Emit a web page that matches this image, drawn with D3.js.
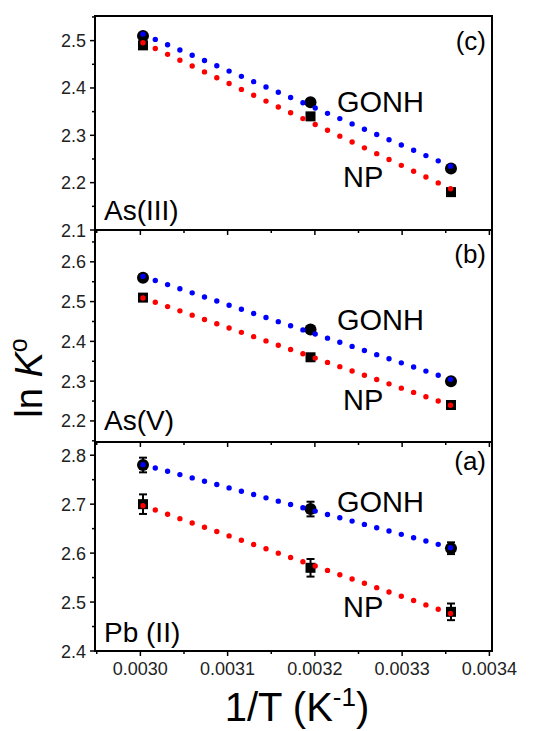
<!DOCTYPE html>
<html>
<head>
<meta charset="utf-8">
<script src="https://cdn.jsdelivr.net/npm/d3@7"></script>
<style>
  body { margin: 0; background: #fff; }
  svg { display: block; font-family: Arial, "Liberation Sans", sans-serif; }
</style>
</head>
<body>
<svg id="chart" width="535" height="731"></svg>
<script>
// 1/T values (K^-1)
var invT = [0.003003, 0.003195, 0.003356];
var xTicks = [0.0030, 0.0031, 0.0032, 0.0033, 0.0034];

// panel (c) As(III)
var gonhAs3 = [2.51, 2.37, 2.23];
var npAs3 = [2.49, 2.34, 2.18];
var gonhAs3Err = [0.005, 0.005, 0.005];
var npAs3Err = [0.005, 0.005, 0.005];
// panel (b) As(V)
var gonhAs5 = [2.56, 2.43, 2.30];
var npAs5 = [2.51, 2.36, 2.24];
var gonhAs5Err = [0.005, 0.005, 0.005];
var npAs5Err = [0.006, 0.006, 0.006];
// panel (a) Pb(II)
var gonhPb = [2.78, 2.69, 2.61];
var npPb = [2.70, 2.57, 2.48];
var gonhPbErr = [0.015, 0.015, 0.012];
var npPbErr = [0.02, 0.018, 0.017];

var panelTags = ["(c)", "(b)", "(a)"];
var ionNames = ["As(III)", "As(V)", "Pb (II)"];
var yTickSets = [[2.1, 2.2, 2.3, 2.4, 2.5], [2.2, 2.3, 2.4, 2.5, 2.6], [2.4, 2.5, 2.6, 2.7, 2.8]];
var yDomains = [[2.1, 2.552], [2.147, 2.68], [2.4, 2.827]];

var panels = [
    {gonh: gonhAs3, np: npAs3, ge: gonhAs3Err, ne: npAs3Err, top: 16, bottom: 230,
     gonhY: 96, npY: 171, ionY: 204, tagY: 34},
    {gonh: gonhAs5, np: npAs5, ge: gonhAs5Err, ne: npAs5Err, top: 230, bottom: 442,
     gonhY: 100, npY: 180, ionY: 200, tagY: 33},
    {gonh: gonhPb, np: npPb, ge: gonhPbErr, ne: npPbErr, top: 442, bottom: 651,
     gonhY: 70, npY: 175, ionY: 200, tagY: 28}
];

var left = 95, right = 492;
var svg = d3.select('#chart');

var x = d3.scaleLinear().domain([0.002948, 0.003403]).range([left, right]);

function fitLine(xs, ys) {
    let mx = d3.mean(xs), my = d3.mean(ys);
    let sxy = 0, sxx = 0;
    for (let i = 0; i < xs.length; i++) {
        sxy += (xs[i] - mx) * (ys[i] - my);
        sxx += (xs[i] - mx) ** 2;
    }
    let b = sxy / sxx;
    return (v) => my + b * (v - mx);
}

function minorTicks(lo, hi, step) {
    let out = [];
    for (let v = Math.ceil(lo / step - 1e-9) * step; v <= hi + 1e-9; v += step) out.push(+v.toFixed(6));
    return out;
}

panels.forEach((p, k) => {
    let y = d3.scaleLinear().domain(yDomains[k]).range([p.bottom, p.top]);
    let g = svg.append('g');

    // y axis ticks (outward, left)
    let ymin = minorTicks(yDomains[k][0], yDomains[k][1], 0.05);
    g.selectAll('line.ytick').data(ymin).enter().append('line')
        .attr('x1', left).attr('x2', (d) => Math.abs(d * 10 - Math.round(d * 10)) < 1e-6 ? left - 5 : left - 3)
        .attr('y1', (d) => y(d)).attr('y2', (d) => y(d))
        .attr('stroke', '#000').attr('stroke-width', 1.5);
    g.selectAll('text.ylab').data(yTickSets[k]).enter().append('text')
        .attr('x', left - 9).attr('y', (d) => y(d) + 6.5)
        .attr('text-anchor', 'end').attr('font-size', 18).attr('fill', '#222')
        .text((d) => d.toFixed(1));

    // x ticks on bottom edge (outward, down)
    let xmin = minorTicks(0.00295, 0.0034, 0.00005);
    g.selectAll('line.xtick').data(xmin).enter().append('line')
        .attr('x1', (d) => x(d)).attr('x2', (d) => x(d))
        .attr('y1', p.bottom).attr('y2', (d) => Math.abs(d * 10000 - Math.round(d * 10000)) < 1e-6 ? p.bottom + 5 : p.bottom + 3)
        .attr('stroke', '#000').attr('stroke-width', 1.5);

    // frame
    g.append('rect')
        .attr('x', left).attr('y', p.top)
        .attr('width', right - left).attr('height', p.bottom - p.top)
        .attr('fill', 'none').attr('stroke', '#000').attr('stroke-width', 2);

    // error bars + markers
    let series = [{v: p.gonh, e: p.ge, shape: 'circle', col: 'blue'},
                  {v: p.np, e: p.ne, shape: 'square', col: 'red'}];
    series.forEach((s) => {
        let pts = invT.map((t, i) => ({x: t, y: s.v[i], e: s.e[i]}));
        let eb = g.append('g');
        pts.forEach((d) => {
            eb.append('line')
                .attr('x1', x(d.x)).attr('x2', x(d.x))
                .attr('y1', y(d.y - d.e)).attr('y2', y(d.y + d.e))
                .attr('stroke', '#000').attr('stroke-width', 2);
            [d.y - d.e, d.y + d.e].forEach((c) => {
                eb.append('line')
                    .attr('x1', x(d.x) - 4).attr('x2', x(d.x) + 4)
                    .attr('y1', y(c)).attr('y2', y(c))
                    .attr('stroke', '#000').attr('stroke-width', 2);
            });
        });
        if (s.shape === 'circle') {
            g.selectAll(null).data(pts).enter().append('circle')
                .attr('cx', (d) => x(d.x)).attr('cy', (d) => y(d.y))
                .attr('r', 6).attr('fill', '#000');
        } else {
            g.selectAll(null).data(pts).enter().append('rect')
                .attr('x', (d) => x(d.x) - 5).attr('y', (d) => y(d.y) - 5)
                .attr('width', 10).attr('height', 10).attr('fill', '#000');
        }
    });

    // dotted fit lines
    series.forEach((s) => {
        let f = fitLine(invT, s.v);
        let x0 = x(invT[0]), x1 = x(invT[invT.length - 1]);
        let y0 = y(f(invT[0])), y1 = y(f(invT[invT.length - 1]));
        let len = Math.hypot(x1 - x0, y1 - y0);
        let n = Math.round((x1 - x0) / 12.5);
        g.append('path')
            .attr('d', d3.line()([[x0, y0], [x1, y1]]))
            .attr('stroke', s.col).attr('stroke-width', 5.4)
            .attr('stroke-linecap', 'round')
            .attr('stroke-dasharray', '0 ' + (len / n - 0.02))
            .attr('fill', 'none');
    });

    // labels
    g.append('text').attr('x', 486).attr('y', p.top + p.tagY)
        .attr('text-anchor', 'end').attr('font-size', 26).text(panelTags[k]);
    g.append('text').attr('x', 337).attr('y', p.top + p.gonhY)
        .attr('font-size', 29).text('GONH');
    g.append('text').attr('x', 343).attr('y', p.top + p.npY)
        .attr('font-size', 29).text('NP');
    g.append('text').attr('x', 104).attr('y', p.top + p.ionY)
        .attr('font-size', 28).text(ionNames[k]);

    if (k === panels.length - 1) {
        svg.append('g').selectAll('text').data(xTicks).enter().append('text')
            .attr('x', (d) => x(d)).attr('y', p.bottom + 24)
            .attr('text-anchor', 'middle').attr('font-size', 18).attr('fill', '#222')
            .text((d) => d.toFixed(4));
    }
});

// axis titles
var xt = svg.append('text').attr('x', 297).attr('y', 721)
    .attr('text-anchor', 'middle').attr('font-size', 40);
xt.append('tspan').text('1/T (K');
xt.append('tspan').attr('font-size', 26).attr('dy', -15).text('-1');
xt.append('tspan').attr('dy', 15).text(')');

var yt = svg.append('text').attr('transform', 'translate(42,378) rotate(-90)')
    .attr('text-anchor', 'middle').attr('font-size', 38);
yt.append('tspan').text('ln ');
yt.append('tspan').attr('font-style', 'italic').text('K');
yt.append('tspan').attr('font-size', 25).attr('dy', -15).text('o');
</script>
</body>
</html>
